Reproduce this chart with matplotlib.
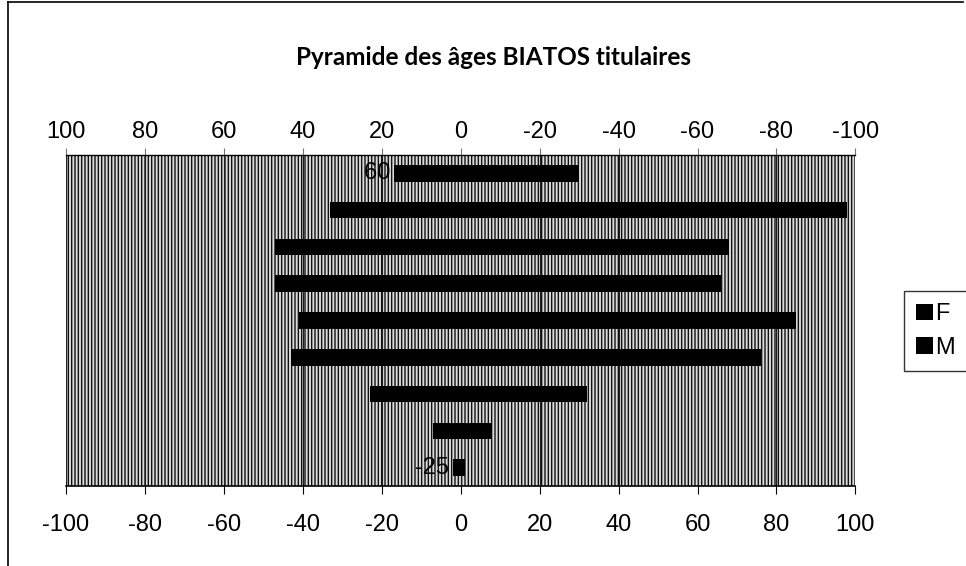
import matplotlib
matplotlib.use("Agg")
import matplotlib.pyplot as plt
import numpy as np
from matplotlib.lines import Line2D
from matplotlib.patches import Rectangle

# age groups, bottom to top
ages = ["-25", "25-29", "30-34", "35-39", "40-44", "45-49", "50-54", "55-59", "60 ans+"]
femmes = [1, 8, 32, 76, 85, 66, 68, 98, 30]
hommes = [2, 7, 23, 43, 41, 47, 47, 33, 17]
xticks = [-100, -80, -60, -40, -20, 0, 20, 40, 60, 80, 100]

plt.rcParams['font.family'] = ['Liberation Sans', 'DejaVu Sans']
plt.rcParams['axes.unicode_minus'] = False
plt.rcParams['hatch.linewidth'] = 1.0
plt.rcParams['hatch.color'] = '#111111'

fig = plt.figure(figsize=(9.66, 5.66), dpi=100)
ax = fig.add_axes([0.0683, 0.1413, 0.8172, 0.5848])

y = np.arange(len(ages))
ax.set_xlim(-100, 100)
ax.set_ylim(-0.5, len(ages) - 0.5)

# grey striped background of the plot area
ax.add_patch(Rectangle((0, 0), 1, 1, transform=ax.transAxes, facecolor='#dadada',
                       edgecolor='#111111', hatch='|' * 5, linewidth=0, zorder=0))
for t in xticks:
    ax.axvline(t, color='#202020', linewidth=0.8, zorder=1)

ax.barh(y, femmes, height=0.45, color='black', label='F', zorder=3)
ax.barh(y, [-h for h in hommes], height=0.45, color='black', label='M', zorder=3)

# category labels next to the axis at 0, only first and last are visible
for i, lab in enumerate(ages):
    if i in (0, len(ages) - 1):
        ax.text(-3, i, lab, ha='right', va='center', fontsize=17, color='black', zorder=4)

ax.set_yticks([])
ax.set_xticks(xticks)
ax.tick_params(axis='x', labelsize=17, length=6, pad=14, direction='out')
for s in ['left', 'right', 'top']:
    ax.spines[s].set_visible(False)
ax.spines['bottom'].set_linewidth(1.2)

ax2 = ax.twiny()
ax2.set_xlim(100, -100)
ax2.set_xticks(xticks[::-1])
ax2.set_xticklabels([str(t) for t in xticks[::-1]])
ax2.tick_params(axis='x', labelsize=17, length=5, pad=4, direction='out', color='#777777')
for s in ['left', 'right', 'bottom']:
    ax2.spines[s].set_visible(False)
ax2.spines['top'].set_color('black')
ax2.spines['top'].set_linewidth(1.0)

fig.text(0.511, 0.899, "Pyramide des âges BIATOS titulaires", ha='center', va='center',
         fontsize=17.5, fontweight='bold', family=['Lato', 'DejaVu Sans'])

leg = ax.legend(loc='center left', bbox_to_anchor=(1.062, 0.468), fontsize=17, frameon=True,
                fancybox=False, edgecolor='black', handlelength=0.7, handleheight=0.7,
                handletextpad=0.12, borderpad=0.5, labelspacing=0.5, borderaxespad=0)
leg.get_frame().set_linewidth(1.0)

# outer frame of the chart
fig.add_artist(Line2D([0.008, 0.008], [0.0, 0.996], transform=fig.transFigure, color='black', linewidth=1.2))
fig.add_artist(Line2D([0.008, 0.997], [0.996, 0.996], transform=fig.transFigure, color='black', linewidth=1.2))

fig.savefig("out.png", dpi=100)
